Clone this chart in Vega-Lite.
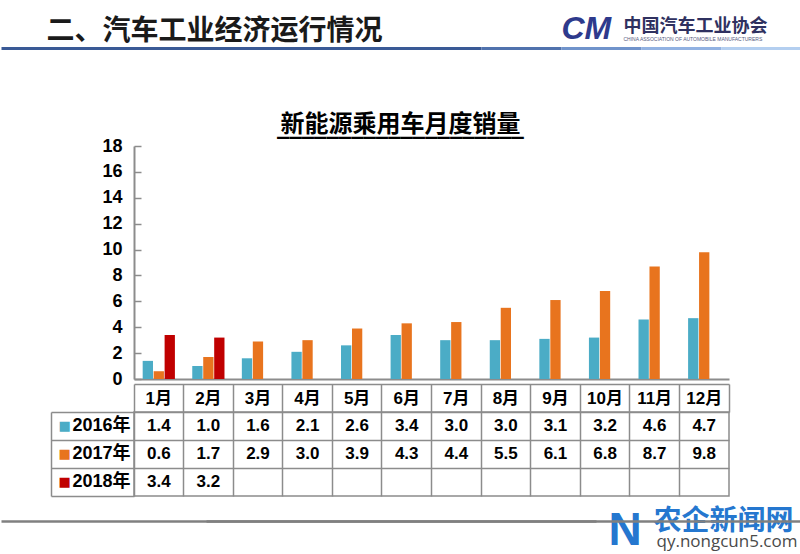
{
  "$schema": "https://vega.github.io/schema/vega-lite/v6.json",
  "padding": {"left": 0, "top": 12, "right": 0, "bottom": 0},
  "background": "white",
  "config": {"view": {"stroke": null}, "font": "Liberation Sans, Noto Sans CJK SC"},
  "datasets": {
    "sales": [
      {"month": "1月", "year": "2016年", "value": 1.4},
      {"month": "2月", "year": "2016年", "value": 1.0},
      {"month": "3月", "year": "2016年", "value": 1.6},
      {"month": "4月", "year": "2016年", "value": 2.1},
      {"month": "5月", "year": "2016年", "value": 2.6},
      {"month": "6月", "year": "2016年", "value": 3.4},
      {"month": "7月", "year": "2016年", "value": 3.0},
      {"month": "8月", "year": "2016年", "value": 3.0},
      {"month": "9月", "year": "2016年", "value": 3.1},
      {"month": "10月", "year": "2016年", "value": 3.2},
      {"month": "11月", "year": "2016年", "value": 4.6},
      {"month": "12月", "year": "2016年", "value": 4.7},
      {"month": "1月", "year": "2017年", "value": 0.6},
      {"month": "2月", "year": "2017年", "value": 1.7},
      {"month": "3月", "year": "2017年", "value": 2.9},
      {"month": "4月", "year": "2017年", "value": 3.0},
      {"month": "5月", "year": "2017年", "value": 3.9},
      {"month": "6月", "year": "2017年", "value": 4.3},
      {"month": "7月", "year": "2017年", "value": 4.4},
      {"month": "8月", "year": "2017年", "value": 5.5},
      {"month": "9月", "year": "2017年", "value": 6.1},
      {"month": "10月", "year": "2017年", "value": 6.8},
      {"month": "11月", "year": "2017年", "value": 8.7},
      {"month": "12月", "year": "2017年", "value": 9.8},
      {"month": "1月", "year": "2018年", "value": 3.4},
      {"month": "2月", "year": "2018年", "value": 3.2}
    ],
    "blank": [{"k": "a"}]
  },
  "spacing": 33,
  "bounds": "flush",
  "vconcat": [
    {
      "width": 667,
      "height": 65,
      "data": {"name": "blank"},
      "resolve": {"axis": {"x": "independent"}},
      "layer": [
        {
          "mark": {"type": "text", "opacity": 0},
          "encoding": {
            "text": {"value": ""},
            "y": {"field": "k", "type": "nominal", "axis": null},
            "x": {"field": "k", "type": "nominal", "axis": {
              "orient": "top", "position": -133, "labels": false, "ticks": false, "grid": false,
              "domain": true, "domainColor": "#3a5a96", "domainWidth": 3, "domainDash": [480, 1000],
              "title": "二、汽车工业经济运行情况", "titleX": 45, "titleY": -9, "titleAlign": "left",
              "titleBaseline": "alphabetic", "titleFont": "Noto Sans CJK SC", "titleFontSize": 28,
              "titleFontWeight": "bold", "titleColor": "#1a1a1a"
            }}
          }
        },
        {
          "mark": {"type": "text", "opacity": 0},
          "encoding": {
            "text": {"value": ""},
            "y": {"field": "k", "type": "nominal", "axis": null},
            "x": {"field": "k", "type": "nominal", "axis": {
              "orient": "top", "position": -133, "labels": false, "ticks": false, "grid": false,
              "domain": true, "domainColor": "#5072ad", "domainWidth": 3, "domainDash": [0, 480, 80, 1000],
              "title": "中国汽车工业协会", "titleX": 622, "titleY": -17, "titleAlign": "left",
              "titleBaseline": "alphabetic", "titleFont": "Noto Sans CJK SC", "titleFontSize": 18,
              "titleFontWeight": "bold", "titleColor": "#2f3160"
            }}
          }
        },
        {
          "mark": {"type": "text", "opacity": 0},
          "encoding": {
            "text": {"value": ""},
            "y": {"field": "k", "type": "nominal", "axis": null},
            "x": {"field": "k", "type": "nominal", "axis": {
              "orient": "top", "position": -133, "labels": false, "ticks": false, "grid": false,
              "domain": true, "domainColor": "#7093cb", "domainWidth": 3, "domainDash": [0, 560, 80, 1000],
              "title": "CHINA ASSOCIATION OF AUTOMOBILE MANUFACTURERS", "titleX": 622, "titleY": -8,
              "titleAlign": "left", "titleBaseline": "alphabetic", "titleFont": "Liberation Sans",
              "titleFontSize": 5, "titleFontWeight": "normal", "titleColor": "#555a80"
            }}
          }
        },
        {
          "mark": {"type": "text", "opacity": 0},
          "encoding": {
            "text": {"value": ""},
            "y": {"field": "k", "type": "nominal", "axis": null},
            "x": {"field": "k", "type": "nominal", "axis": {
              "orient": "top", "position": 0, "labels": false, "ticks": false, "grid": false,
              "domain": true, "domainColor": "#92b2e2", "domainWidth": 3, "domainDash": [0, 507, 80, 1000],
              "title": "CM", "titleX": 427, "titleY": -10, "titleAlign": "left",
              "titleBaseline": "alphabetic", "titleFont": "Liberation Sans", "titleFontSize": 32,
              "titleFontWeight": "bold", "titleFontStyle": "italic", "titleColor": "#2e3a8c"
            }}
          }
        },
        {
          "mark": {"type": "text", "opacity": 0},
          "encoding": {
            "text": {"value": ""},
            "y": {"field": "k", "type": "nominal", "axis": null},
            "x": {"field": "k", "type": "nominal", "axis": {
              "orient": "top", "position": 0, "labels": false, "ticks": false, "grid": false,
              "domain": true, "domainColor": "#b4cff0", "domainWidth": 3, "domainDash": [0, 587, 80, 1000],
              "title": null
            }}
          }
        }
      ]
    },
    {
      "width": 595,
      "height": 233,
      "data": {"name": "sales"},
      "title": {
        "text": "新能源乘用车月度销量", "subtitle": "____________________",
        "font": "Noto Sans CJK SC", "fontSize": 24, "fontWeight": "bold", "color": "#000000",
        "anchor": "middle", "frame": "group", "dx": -31, "offset": -1,
        "subtitleFont": "DejaVu Sans", "subtitleFontSize": 24.7, "subtitleFontWeight": "bold",
        "subtitleColor": "#000000", "subtitlePadding": -24
      },
      "mark": {"type": "bar"},
      "encoding": {
        "x": {"field": "month", "type": "nominal",
          "sort": ["1月", "2月", "3月", "4月", "5月", "6月", "7月", "8月", "9月", "10月", "11月", "12月"],
          "scale": {"paddingInner": 0.35, "paddingOuter": 0.175},
          "axis": {"title": null, "labels": false, "ticks": false, "domain": true, "domainColor": "#8c8c8c", "domainWidth": 2}
        },
        "xOffset": {"field": "year", "type": "nominal", "sort": ["2016年", "2017年", "2018年"], "scale": {"paddingInner": 0.06}},
        "y": {"field": "value", "type": "quantitative", "scale": {"domain": [0, 18], "nice": false},
          "axis": {"title": null, "values": [0, 2, 4, 6, 8, 10, 12, 14, 16, 18], "grid": false,
            "domainColor": "#8c8c8c", "domainWidth": 2, "tickColor": "#8c8c8c", "tickWidth": 1.5,
            "tickSize": -7, "labelPadding": 19, "labelFontSize": 18, "labelFontWeight": "bold",
            "labelColor": "#000000", "labelFont": "Liberation Sans"}
        },
        "color": {"field": "year", "type": "nominal",
          "scale": {"domain": ["2016年", "2017年", "2018年"], "range": ["#4bacc6", "#e8741e", "#c00000"]},
          "legend": null}
      }
    },
    {
      "width": 595,
      "height": 84,
      "data": {"name": "sales"},
      "view": {"stroke": "#8c8c8c", "strokeWidth": 1.5},
      "resolve": {"axis": {"x": "independent", "y": "independent"}},
      "layer": [
        {
          "mark": {"type": "text", "fontSize": 17, "fontWeight": "bold", "font": "Liberation Sans", "color": "#000000", "baseline": "middle"},
          "encoding": {
            "text": {"field": "value", "type": "quantitative", "format": ".1f"},
            "x": {"field": "month", "type": "nominal",
              "sort": ["1月", "2月", "3月", "4月", "5月", "6月", "7月", "8月", "9月", "10月", "11月", "12月"],
              "scale": {"type": "band", "paddingInner": 0, "paddingOuter": 0},
              "axis": {"orient": "top", "title": null, "labelFontSize": 17, "labelFontWeight": "bold",
                "labelColor": "#000000", "labelFont": "Liberation Sans, Noto Sans CJK SC", "labelPadding": 14,
                "labelBaseline": "middle", "labelAngle": 0, "ticks": false, "domain": false, "grid": false}
            },
            "y": {"field": "year", "type": "nominal", "sort": ["2016年", "2017年", "2018年"],
              "scale": {"type": "band", "paddingInner": 0, "paddingOuter": 0},
              "axis": {"orient": "left", "title": null, "labelFontSize": 18, "labelFontWeight": "bold",
                "labelColor": "#000000", "labelFont": "Liberation Sans, Noto Sans CJK SC", "labelPadding": 4,
                "ticks": false, "domain": false, "grid": false}
            }
          }
        },
        {
          "mark": {"type": "text", "opacity": 0},
          "encoding": {
            "text": {"value": ""},
            "x": {"field": "month", "type": "nominal",
              "sort": ["1月", "2月", "3月", "4月", "5月", "6月", "7月", "8月", "9月", "10月", "11月", "12月"],
              "axis": {"orient": "top", "title": null, "bandPosition": 0, "labels": false, "ticks": true,
                "tickSize": 28, "tickColor": "#8c8c8c", "tickWidth": 1.5, "domain": false, "grid": true,
                "gridColor": "#8c8c8c", "gridWidth": 1.5}
            },
            "y": {"field": "year", "type": "nominal", "sort": ["2016年", "2017年", "2018年"],
              "axis": {"orient": "left", "title": null, "bandPosition": 0, "labels": false, "ticks": true,
                "tickSize": 83, "tickColor": "#8c8c8c", "tickWidth": 1.5, "domain": false, "grid": true,
                "gridColor": "#8c8c8c", "gridWidth": 1.5}
            }
          }
        },
        {
          "mark": {"type": "text", "opacity": 0},
          "encoding": {
            "text": {"value": ""},
            "x": {"field": "month", "type": "nominal",
              "sort": ["1月", "2月", "3月", "4月", "5月", "6月", "7月", "8月", "9月", "10月", "11月", "12月"],
              "axis": {"orient": "top", "title": null, "bandPosition": 1, "values": ["12月"], "labels": false,
                "ticks": true, "tickSize": 28, "tickColor": "#8c8c8c", "tickWidth": 1.5, "domain": false, "grid": false}
            },
            "y": {"field": "year", "type": "nominal", "sort": ["2016年", "2017年", "2018年"],
              "axis": {"orient": "left", "title": null, "bandPosition": 1, "values": ["2018年"], "labels": false,
                "ticks": true, "tickSize": 83, "tickColor": "#8c8c8c", "tickWidth": 1.5, "domain": false, "grid": false}
            }
          }
        },
        {
          "mark": {"type": "text", "opacity": 0},
          "encoding": {
            "text": {"value": ""},
            "x": {"field": "month", "type": "nominal",
              "sort": ["1月", "2月", "3月", "4月", "5月", "6月", "7月", "8月", "9月", "10月", "11月", "12月"],
              "axis": {"orient": "top", "offset": 28, "labels": false, "ticks": false,
                "domain": true, "domainColor": "#8c8c8c", "domainWidth": 1.5, "grid": false,
                "title": "N", "titleX": 474, "titleY": 160, "titleAlign": "left", "titleBaseline": "alphabetic",
                "titleFont": "Liberation Sans", "titleFontSize": 46, "titleFontWeight": "bold", "titleColor": "#2577cf"}
            },
            "y": {"field": "year", "type": "nominal", "sort": ["2016年", "2017年", "2018年"],
              "axis": {"orient": "left", "title": null, "offset": 83, "labels": false, "ticks": false,
                "domain": true, "domainColor": "#8c8c8c", "domainWidth": 1.5, "grid": false}
            }
          }
        },
        {
          "mark": {"type": "text", "opacity": 0},
          "encoding": {
            "text": {"value": ""},
            "x": {"field": "month", "type": "nominal",
              "sort": ["1月", "2月", "3月", "4月", "5月", "6月", "7月", "8月", "9月", "10月", "11月", "12月"],
              "axis": {"orient": "bottom", "offset": 25, "position": -133, "labels": false,
                "ticks": false, "domain": true, "domainColor": "#808080", "domainWidth": 2.5, "grid": false,
                "title": "农企新闻网", "titleX": 652, "titleY": 8, "titleAlign": "left", "titleBaseline": "alphabetic",
                "titleFont": "Noto Sans CJK SC", "titleFontSize": 28, "titleFontWeight": "bold", "titleColor": "#2577cf"}
            },
            "y": {"field": "year", "type": "nominal", "sort": ["2016年", "2017年", "2018年"],
              "axis": {"orient": "left", "title": null, "labelExpr": "'■'", "labelFont": "DejaVu Sans",
                "labelFontSize": 13, "labelAlign": "left", "labelPadding": 76,
                "labelColor": {"condition": [{"test": "datum.value === '2016年'", "value": "#4bacc6"}, {"test": "datum.value === '2017年'", "value": "#e8741e"}], "value": "#c00000"},
                "ticks": false, "domain": false, "grid": false}
            }
          }
        },
        {
          "mark": {"type": "text", "opacity": 0},
          "encoding": {
            "text": {"value": ""},
            "x": {"field": "month", "type": "nominal",
              "sort": ["1月", "2月", "3月", "4月", "5月", "6月", "7月", "8月", "9月", "10月", "11月", "12月"],
              "axis": {"orient": "bottom", "offset": 25, "position": 72, "labels": false,
                "ticks": false, "domain": true, "domainColor": "#808080", "domainWidth": 2.5, "grid": false,
                "title": "qy.nongcun5.com", "titleX": 450, "titleY": 25, "titleAlign": "left", "titleBaseline": "alphabetic",
                "titleFont": "Open Sans", "titleFontSize": 17, "titleFontWeight": "normal", "titleColor": "#4a4a4a"}
            },
            "y": {"field": "year", "type": "nominal", "sort": ["2016年", "2017年", "2018年"], "axis": null}
          }
        }
      ]
    }
  ]
}
